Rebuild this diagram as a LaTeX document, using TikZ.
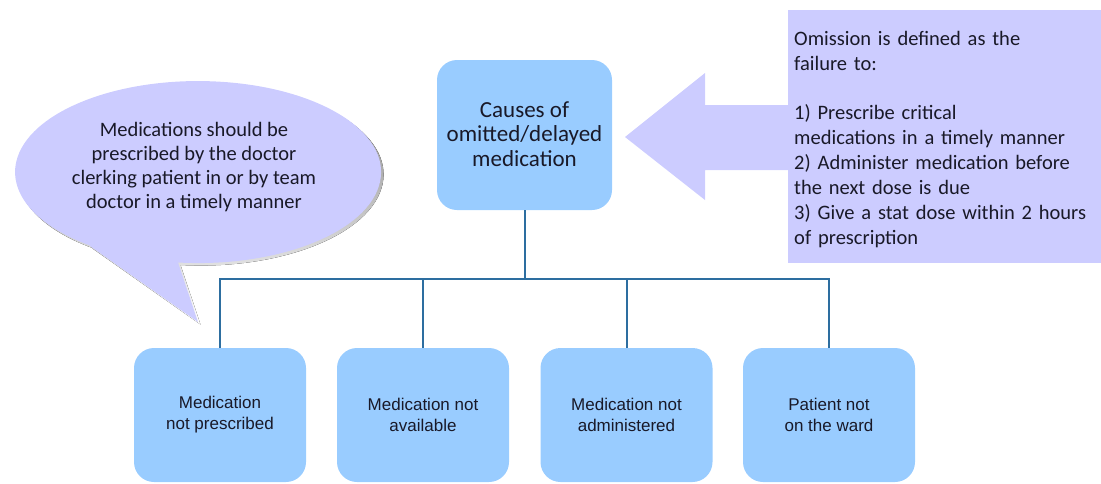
\documentclass[tikz,border=0pt]{standalone}
\usepackage{fontspec}
\setmainfont{Carlito}
\newfontfamily\arialf{Liberation Sans}
\definecolor{boxblue}{RGB}{153,204,255}
\definecolor{linkblue}{RGB}{45,110,160}
\definecolor{lav}{RGB}{204,204,255}
\definecolor{txt}{RGB}{25,25,40}
\definecolor{shade}{RGB}{135,135,140}
\begin{document}
\begin{tikzpicture}[x=1pt,y=-1pt,
  cause/.style={rounded corners=20pt, fill=boxblue, minimum width=172pt, minimum height=134pt,
    font=\arialf\fontsize{17}{21}\selectfont, text=txt, align=center, inner sep=0pt},
  topbox/.style={rounded corners=20pt, fill=boxblue, minimum width=175pt, minimum height=150pt,
    font=\fontsize{23}{24.75}\selectfont, text=txt, align=center, inner sep=0pt,
    text height=106.5pt, text depth=43.5pt},
  link/.style={draw=linkblue, line width=2pt},
  infobox/.style={fill=lav, anchor=north west, minimum height=253pt, inner xsep=6pt, inner ysep=0pt,
    text width=310pt, align=left, font=\fontsize{20.5}{24.9}\selectfont, text=txt,
    text height=35pt, text depth=218pt},
  bubtxt/.style={align=center, font=\fontsize{20.5}{23.7}\selectfont, text=txt, inner sep=0pt,
    anchor=base}]
\useasboundingbox (0,0) rectangle (1101,483);

% speech bubble
\fill[shade, shift={(2.5,2.5)}] (90,246) -- (198,322) -- (178,262.5)
  arc[start angle=96.3, end angle=-233.8, x radius=183, y radius=91] -- cycle;
\fill[lav] (90,246) -- (198,322) -- (178,262.5)
  arc[start angle=96.3, end angle=-233.8, x radius=183, y radius=91] -- cycle;
\node[bubtxt] (bubtext) at (194,208)
  {Medications should be\\prescribed by the doctor\\clerking patient in or by team\\doctor in a timely manner};

% info box and arrow
\node[infobox] (info) at (788,10) {Omission is defined as the\\failure to:\\[24.9pt]1) Prescribe critical\\medications in a timely manner\\2) Administer medication before\\the next dose is due\\3) Give a stat dose within 2 hours\\of prescription};
\fill[lav] (625,137) -- (705,73) -- (705,105) -- (info.west |- 0,105) -- (info.west |- 0,170)
  -- (705,170) -- (705,200) -- cycle;

% boxes
\node[topbox] (top) at (524.5,135) {Causes of\\omitted/delayed\\medication};
\node[cause] (b1) at (220,415) {Medication\\not prescribed};
\node[cause] (b2) at (423,415) {Medication not\\available};
\node[cause] (b3) at (626.5,415) {Medication not\\administered};
\node[cause] (b4) at (829,415) {Patient not\\on the ward};

% connectors
\coordinate (bus) at (524.5,279);
\draw[link] (top.south) -- (bus);
\draw[link] (b1.north) |- (b4.north |- bus) -- (b4.north);
\draw[link] (b2.north) -- (b2.north |- bus);
\draw[link] (b3.north) -- (b3.north |- bus);
\end{tikzpicture}
\end{document}
